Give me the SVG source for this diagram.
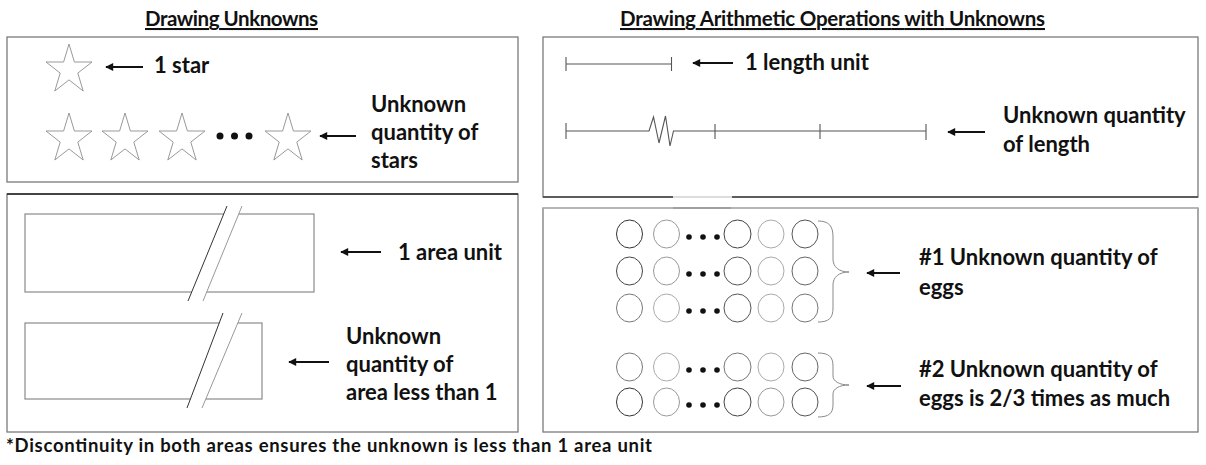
<svg xmlns="http://www.w3.org/2000/svg" width="1206" height="465" viewBox="0 0 1206 465">
<style>
.panel{fill:#fff;stroke:#7a7a7a;stroke-width:1.3}
.ttl{font-family:Lato,"Liberation Sans",sans-serif;font-weight:700;font-size:20.5px;fill:#111;text-decoration:underline}
.lbl{font-family:Lato,"Liberation Sans",sans-serif;font-weight:700;font-size:22px;fill:#111}
.note{font-family:Lato,"Liberation Sans",sans-serif;font-weight:700;font-size:18.5px;fill:#111}
.star{fill:none;stroke:#999;stroke-width:1}
.shape{fill:none;stroke:#8a8a8a;stroke-width:1.2}
.seg{fill:none;stroke:#555;stroke-width:1.1}
.egg{fill:none;stroke-width:1}
.dot{fill:#111}
.arrow{stroke:#111;stroke-width:2.2;fill:none;marker-end:url(#ah)}
.brace{fill:none;stroke:#8a8a8a;stroke-width:1}
</style>
<defs>
<marker id="ah" viewBox="0 0 10 10" refX="9" refY="5" markerWidth="9" markerHeight="8" markerUnits="userSpaceOnUse" orient="auto">
<path d="M0,0 L10,5 L0,10 z" fill="#111"/>
</marker>
<path id="st" d="M23,0 L28.4,18 L46,18 L31.8,29.1 L37.2,47 L23,35.9 L8.8,47 L14.2,29.1 L0,18 L17.6,18 Z"/>
</defs>
<rect width="1206" height="465" fill="#fff"/>

<g id="titles">
<text class="ttl" x="145" y="26" textLength="173">Drawing Unknowns</text>
<text class="ttl" x="620" y="26" textLength="425">Drawing Arithmetic Operations with Unknowns</text>
</g>

<g id="panel-stars">
<rect class="panel" x="7" y="37" width="511" height="145"/>
<use href="#st" class="star" x="46" y="44"/>
<use href="#st" class="star" x="46" y="113"/>
<use href="#st" class="star" x="102" y="113"/>
<use href="#st" class="star" x="159" y="113"/>
<circle class="dot" cx="220" cy="136" r="3.5"/>
<circle class="dot" cx="234.5" cy="136" r="3.5"/>
<circle class="dot" cx="249" cy="136" r="3.5"/>
<use href="#st" class="star" x="265" y="113"/>
<text class="lbl" x="154" y="73">1 star</text>
<text class="lbl" x="371" y="112">Unknown</text>
<text class="lbl" x="371" y="140">quantity of</text>
<text class="lbl" x="371" y="168">stars</text>
</g>

<g id="panel-area">
<rect class="panel" x="7" y="194" width="511" height="238"/>
<line x1="7" y1="194" x2="518" y2="194" stroke="#222" stroke-width="1.3"/>
<rect class="shape" x="25" y="214" width="289" height="78"/>
<polygon points="188,301 227,206 242,206 203,301" fill="#fff"/>
<line x1="188" y1="301" x2="227" y2="206" stroke="#333" stroke-width="1"/>
<line x1="203" y1="301" x2="242" y2="206" stroke="#999" stroke-width="1"/>
<rect class="shape" x="25" y="323" width="237" height="76"/>
<polygon points="187,408 223,313 242,313 202,408" fill="#fff"/>
<line x1="187" y1="408" x2="223" y2="313" stroke="#333" stroke-width="1"/>
<line x1="202" y1="408" x2="242" y2="313" stroke="#999" stroke-width="1"/>
<text class="lbl" x="398" y="260">1 area unit</text>
<text class="lbl" x="346" y="344">Unknown</text>
<text class="lbl" x="346" y="372">quantity of</text>
<text class="lbl" x="346" y="400">area less than 1</text>
</g>

<g id="panel-length">
<rect class="panel" x="543" y="37" width="655" height="160"/>
<line x1="543" y1="197" x2="1198" y2="197" stroke="#444" stroke-width="1.3"/>
<line x1="673" y1="197" x2="732" y2="197" stroke="#ddd" stroke-width="2"/>
<path class="seg" d="M566,64 H671.5 M566,57 V71 M671.5,57 V71"/>
<path class="seg" d="M566,131 H649 L653.5,117 L659,143 L665.5,116 L670,146 L673.5,131 H926 M566,123 V139 M715,124 V139 M820,124 V139 M926,124 V140"/>
<text class="lbl" x="745" y="70">1 length unit</text>
<text class="lbl" x="1003" y="123">Unknown quantity</text>
<text class="lbl" x="1003" y="152">of length</text>
</g>

<g id="panel-eggs">
<rect class="panel" x="543" y="208" width="655" height="224"/>
<line x1="543" y1="208" x2="1198" y2="208" stroke="#bbb" stroke-width="1.3"/>
<line x1="673" y1="208" x2="731" y2="208" stroke="#999" stroke-width="1.6"/>
<g id="eggs-1">
<ellipse class="egg" stroke="#333" cx="629.5" cy="234" rx="13" ry="14"/>
<ellipse class="egg" stroke="#999" cx="666.5" cy="234" rx="13" ry="14"/>
<ellipse class="egg" stroke="#444" cx="737.5" cy="234" rx="13.5" ry="14"/>
<ellipse class="egg" stroke="#aaa" cx="771" cy="234" rx="13" ry="14"/>
<ellipse class="egg" stroke="#555" cx="805" cy="234" rx="13" ry="14"/>
<circle class="dot" cx="689" cy="237" r="2.8"/><circle class="dot" cx="703" cy="237" r="2.8"/><circle class="dot" cx="717" cy="237" r="2.8"/>
<ellipse class="egg" stroke="#444" cx="629.5" cy="271" rx="13" ry="14"/>
<ellipse class="egg" stroke="#999" cx="666.5" cy="271" rx="13" ry="14"/>
<ellipse class="egg" stroke="#555" cx="737.5" cy="271" rx="13.5" ry="14"/>
<ellipse class="egg" stroke="#aaa" cx="771" cy="271" rx="13" ry="14"/>
<ellipse class="egg" stroke="#666" cx="805" cy="271" rx="13" ry="14"/>
<circle class="dot" cx="689" cy="274" r="2.8"/><circle class="dot" cx="703" cy="274" r="2.8"/><circle class="dot" cx="717" cy="274" r="2.8"/>
<ellipse class="egg" stroke="#777" cx="629.5" cy="308" rx="13" ry="14"/>
<ellipse class="egg" stroke="#aaa" cx="666.5" cy="308" rx="13" ry="14"/>
<ellipse class="egg" stroke="#555" cx="737.5" cy="308" rx="13.5" ry="14"/>
<ellipse class="egg" stroke="#aaa" cx="771" cy="308" rx="13" ry="14"/>
<ellipse class="egg" stroke="#777" cx="805" cy="308" rx="13" ry="14"/>
<circle class="dot" cx="689" cy="311" r="2.8"/><circle class="dot" cx="703" cy="311" r="2.8"/><circle class="dot" cx="717" cy="311" r="2.8"/>
<path class="brace" d="M818,221 C829,221 833,226 833,237 L833,259 C833,267 839,272 849,272 C839,272 833,277 833,285 L833,308 C833,318 829,322 818,322"/>
</g>
<g id="eggs-2">
<ellipse class="egg" stroke="#777" cx="629.5" cy="367" rx="13" ry="14"/>
<ellipse class="egg" stroke="#aaa" cx="666.5" cy="367" rx="13" ry="14"/>
<ellipse class="egg" stroke="#777" cx="737.5" cy="367" rx="13.5" ry="14"/>
<ellipse class="egg" stroke="#aaa" cx="771" cy="367" rx="13" ry="14"/>
<ellipse class="egg" stroke="#666" cx="805" cy="367" rx="13" ry="14"/>
<circle class="dot" cx="689" cy="370" r="2.8"/><circle class="dot" cx="703" cy="370" r="2.8"/><circle class="dot" cx="717" cy="370" r="2.8"/>
<ellipse class="egg" stroke="#333" cx="629.5" cy="402" rx="13" ry="14"/>
<ellipse class="egg" stroke="#999" cx="666.5" cy="402" rx="13" ry="14"/>
<ellipse class="egg" stroke="#444" cx="737.5" cy="402" rx="13.5" ry="14"/>
<ellipse class="egg" stroke="#999" cx="771" cy="402" rx="13" ry="14"/>
<ellipse class="egg" stroke="#555" cx="805" cy="402" rx="13" ry="14"/>
<circle class="dot" cx="689" cy="405" r="2.8"/><circle class="dot" cx="703" cy="405" r="2.8"/><circle class="dot" cx="717" cy="405" r="2.8"/>
<path class="brace" d="M818,353 C829,353 833,357 833,366 L833,376 C833,381 839,385 849,385 C839,385 833,389 833,394 L833,405 C833,413 829,417 818,417"/>
</g>
<text class="lbl" x="919" y="265">#1 Unknown quantity of</text>
<text class="lbl" x="919" y="295">eggs</text>
<text class="lbl" x="919" y="377">#2 Unknown quantity of</text>
<text class="lbl" x="919" y="406">eggs is 2/3 times as much</text>
</g>

<g id="connectors">
<line class="arrow" x1="143" y1="67" x2="106" y2="67"/>
<line class="arrow" x1="356" y1="136" x2="320" y2="136"/>
<line class="arrow" x1="381" y1="252" x2="341" y2="252"/>
<line class="arrow" x1="329" y1="362" x2="289" y2="362"/>
<line class="arrow" x1="733" y1="63" x2="693" y2="63"/>
<line class="arrow" x1="985" y1="132" x2="948" y2="132"/>
<line class="arrow" x1="900" y1="273" x2="867" y2="273" style="stroke-width:1.8"/>
<line class="arrow" x1="901" y1="386" x2="867" y2="386"/>
</g>

<g id="footnote">
<text class="note" x="6" y="452" textLength="646">*Discontinuity in both areas ensures the unknown is less than 1 area unit</text>
</g>
</svg>
